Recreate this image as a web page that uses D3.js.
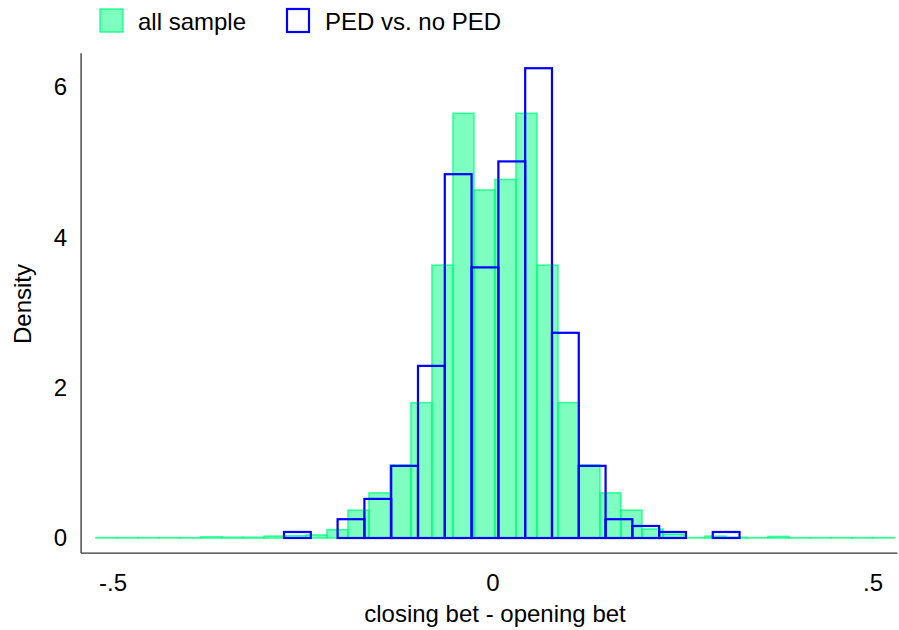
<!DOCTYPE html>
<html>
<head>
<meta charset="utf-8">
<script src="https://cdnjs.cloudflare.com/ajax/libs/d3/7.8.5/d3.min.js"></script>
<style>
  body { margin: 0; background: #fff; }
  text { font-family: 'Liberation Sans', Arial, sans-serif; fill: #000; }
</style>
</head>
<body>
<div class="canvas"></div>
<script>
// histogram 1: all sample (density per bin)
const allStart = -0.5224;
const allWidth = 0.02763;
const allSample = [
  0.005, 0.005, 0.005, 0.005, 0.005, 0.015, 0.01, 0.01, 0.025, 0.03,
  0.04, 0.11, 0.37, 0.60, 0.97, 1.80, 3.63, 5.65, 4.63, 4.77,
  5.65, 3.63, 1.80, 0.97, 0.60, 0.37, 0.12, 0.05, 0.005, 0.025,
  0.01, 0.005, 0.02, 0.005, 0.005, 0.005, 0.005, 0.005
];

// histogram 2: PED vs. no PED
const pedStart = -0.275;
const pedWidth = 0.03526;
const pedVsNoPed = [
  0.08, 0, 0.25, 0.52, 0.96, 2.29, 4.84, 3.60, 5.01, 6.25,
  2.73, 0.96, 0.25, 0.16, 0.08, 0, 0.08
];

const xTicks = [-0.5, 0, 0.5];
const xTickLabels = ['-.5', '0', '.5'];
const yTicks = [0, 2, 4, 6];
const legendLabels = ['all sample', 'PED vs. no PED'];

const svg = d3.select('.canvas')
  .append('svg')
    .attr('width', 899)
    .attr('height', 630);

// scales
const x = d3.scaleLinear()
  .domain([-0.5, 0.5])
  .range([113, 873]);

const y = d3.scaleLinear()
  .domain([0, 6])
  .range([538, 87]);

const toBins = (vals, start, width) => vals.map((d, i) => ({
  x0: start + i * width,
  x1: start + (i + 1) * width,
  d: d
}));

const allBins = toBins(allSample, allStart, allWidth);
const pedBins = toBins(pedVsNoPed, pedStart, pedWidth);

// all sample bars
svg.append('g')
  .selectAll('rect')
  .data(allBins)
  .enter()
  .append('rect')
    .attr('x', d => x(d.x0))
    .attr('y', d => y(d.d))
    .attr('width', d => x(d.x1) - x(d.x0))
    .attr('height', d => y(0) - y(d.d))
    .attr('fill', '#00ff7f')
    .attr('fill-opacity', 0.5)
    .attr('stroke', '#00ff7f')
    .attr('stroke-opacity', 0.75)
    .attr('stroke-width', 1.6);

// PED outline bars (skip empty bins)
svg.append('g')
  .selectAll('rect')
  .data(pedBins.filter(b => b.d > 0))
  .enter()
  .append('rect')
    .attr('x', d => x(d.x0))
    .attr('y', d => y(d.d))
    .attr('width', d => x(d.x1) - x(d.x0))
    .attr('height', d => y(0) - y(d.d))
    .attr('fill', 'none')
    .attr('stroke', '#0000ff')
    .attr('stroke-width', 2.2);

// axis lines
const xMin = -0.542, xMax = 0.532;
svg.append('line')
  .attr('x1', x(xMin)).attr('x2', x(xMin))
  .attr('y1', y(6.45)).attr('y2', y(-0.2))
  .attr('stroke', '#333')
  .attr('stroke-width', 1.3);

svg.append('line')
  .attr('x1', x(xMin)).attr('x2', x(xMax))
  .attr('y1', y(-0.2)).attr('y2', y(-0.2))
  .attr('stroke', '#333')
  .attr('stroke-width', 1.3);

// tick labels
svg.append('g')
  .selectAll('text')
  .data(yTicks)
  .enter()
  .append('text')
    .attr('x', 67)
    .attr('y', d => y(d))
    .attr('dy', '0.35em')
    .attr('text-anchor', 'end')
    .attr('font-size', 24)
    .text(d => d);

svg.append('g')
  .selectAll('text')
  .data(xTicks)
  .enter()
  .append('text')
    .attr('x', d => x(d))
    .attr('y', 591)
    .attr('text-anchor', 'middle')
    .attr('font-size', 24)
    .text((d, i) => xTickLabels[i]);

// axis titles
svg.append('text')
  .attr('x', 495)
  .attr('y', 622)
  .attr('text-anchor', 'middle')
  .attr('font-size', 24)
  .text('closing bet - opening bet');

svg.append('text')
  .attr('transform', 'translate(31, 304) rotate(-90)')
  .attr('text-anchor', 'middle')
  .attr('font-size', 24)
  .text('Density');

// legend
const legend = svg.append('g');

legend.append('rect')
  .attr('x', 100).attr('y', 9)
  .attr('width', 23).attr('height', 23)
  .attr('fill', '#00ff7f')
  .attr('fill-opacity', 0.5)
  .attr('stroke', '#00ff7f')
  .attr('stroke-opacity', 0.75)
  .attr('stroke-width', 1.6);

legend.append('text')
  .attr('x', 138).attr('y', 29.5)
  .attr('font-size', 24)
  .text(legendLabels[0]);

legend.append('rect')
  .attr('x', 287).attr('y', 9)
  .attr('width', 22).attr('height', 23)
  .attr('fill', 'none')
  .attr('stroke', '#0000ff')
  .attr('stroke-width', 2.2);

legend.append('text')
  .attr('x', 325).attr('y', 29.5)
  .attr('font-size', 24)
  .text(legendLabels[1]);
</script>
</body>
</html>
